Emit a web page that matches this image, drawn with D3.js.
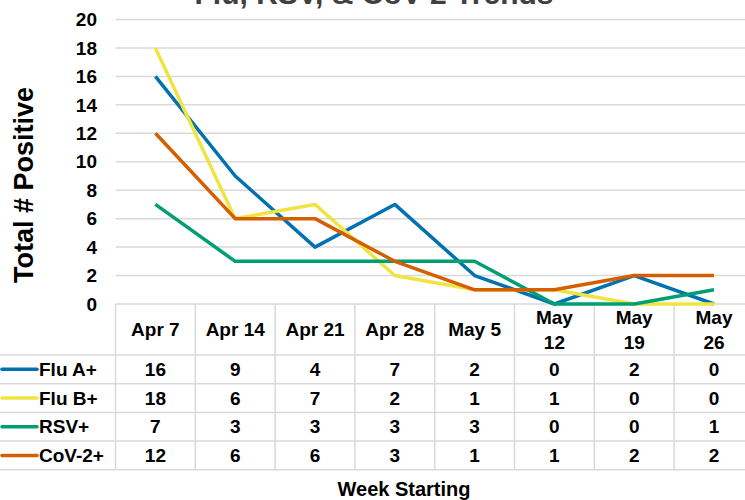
<!DOCTYPE html>
<html>
<head>
<meta charset="utf-8">
<script src="https://cdn.jsdelivr.net/npm/d3@7"></script>
<style>
  body { margin: 0; background: #fff; }
  svg text { font-family: "Liberation Sans", Arial, sans-serif; font-weight: bold; fill: #000; }
</style>
</head>
<body>
<div id="chart"></div>
<script>
// weeks and series
var weeks = [["Apr 7"], ["Apr 14"], ["Apr 21"], ["Apr 28"], ["May 5"], ["May", "12"], ["May", "19"], ["May", "26"]];
var seriesNames = ["Flu A+", "Flu B+", "RSV+", "CoV-2+"];
var fluA = [16, 9, 4, 7, 2, 0, 2, 0];
var fluB = [18, 6, 7, 2, 1, 1, 0, 0];
var rsv = [7, 3, 3, 3, 3, 0, 0, 1];
var cov2 = [12, 6, 6, 3, 1, 1, 2, 2];
var colors = ["#0072B2", "#F0E442", "#009E73", "#D55E00"];
var yTicks = [0, 2, 4, 6, 8, 10, 12, 14, 16, 18, 20];

var series = [fluA, fluB, rsv, cov2].map(function(v, i) {
  return {name: seriesNames[i], values: v, color: colors[i]};
});

var width = 745, height = 500;
var left = 115.5, colW = 79.8;
var plotTop = 19.5, plotBottom = 304;
var headerH = 51, rowH = 28.7;
var fs = "19px";

var svg = d3.select("#chart").append("svg")
  .attr("width", width)
  .attr("height", height);

var x = d3.scaleBand()
  .domain(d3.range(weeks.length))
  .range([left, left + colW * weeks.length]);

var y = d3.scaleLinear()
  .domain([0, 20])
  .range([plotBottom, plotTop]);

// title, mostly cut off at the top
svg.append("text")
  .attr("x", 374)
  .attr("y", 4)
  .attr("text-anchor", "middle")
  .style("font-size", "30px")
  .style("fill", "#404040")
  .text("Flu, RSV, & CoV-2 Trends");

// gridlines
svg.append("g")
  .selectAll("line")
  .data(yTicks.filter(function(d) { return d > 0; }))
  .enter().append("line")
  .attr("x1", left)
  .attr("x2", width)
  .attr("y1", function(d) { return y(d); })
  .attr("y2", function(d) { return y(d); })
  .style("stroke", "#d9d9d9")
  .style("stroke-width", 1.5);

// y axis labels
svg.append("g")
  .selectAll("text")
  .data(yTicks)
  .enter().append("text")
  .attr("x", 97)
  .attr("y", function(d) { return y(d); })
  .attr("dy", "0.35em")
  .attr("text-anchor", "end")
  .style("font-size", fs)
  .text(function(d) { return d; });

svg.append("text")
  .attr("transform", "translate(33,185) rotate(-90)")
  .attr("text-anchor", "middle")
  .style("font-size", "27px")
  .text("Total # Positive");

// data table grid
var grid = svg.append("g")
  .style("stroke", "#d9d9d9")
  .style("stroke-width", 1.5);

var tableTop = plotBottom;
var rowTops = d3.range(seriesNames.length + 1).map(function(i) {
  return tableTop + headerH + i * rowH;
});

grid.append("line")
  .attr("x1", left).attr("x2", width)
  .attr("y1", tableTop).attr("y2", tableTop);

grid.selectAll("line.row")
  .data(rowTops)
  .enter().append("line")
  .attr("class", "row")
  .attr("x1", 0).attr("x2", width)
  .attr("y1", function(d) { return d; })
  .attr("y2", function(d) { return d; });

grid.selectAll("line.col")
  .data(d3.range(weeks.length + 1))
  .enter().append("line")
  .attr("class", "col")
  .attr("x1", function(d) { return left + d * colW; })
  .attr("x2", function(d) { return left + d * colW; })
  .attr("y1", tableTop)
  .attr("y2", rowTops[rowTops.length - 1]);

// header labels
var header = svg.append("g")
  .selectAll("text")
  .data(weeks)
  .enter().append("text")
  .attr("text-anchor", "middle")
  .style("font-size", fs)
  .attr("x", function(d, i) { return x(i) + x.bandwidth() / 2; })
  .attr("y", function(d) { return tableTop + headerH / 2 - (d.length - 1) * 12.5; });

header.selectAll("tspan")
  .data(function(d) { return d; })
  .enter().append("tspan")
  .attr("x", function() { return d3.select(this.parentNode).attr("x"); })
  .attr("dy", function(d, i) { return i === 0 ? "0.35em" : "25px"; })
  .text(function(d) { return d; });

// table rows
var rows = svg.append("g")
  .selectAll("g")
  .data(series)
  .enter().append("g")
  .attr("transform", function(d, i) { return "translate(0," + (rowTops[i] + rowH / 2) + ")"; });

rows.append("line")
  .attr("x1", 2).attr("x2", 37)
  .attr("y1", 0).attr("y2", 0)
  .style("stroke", function(d) { return d.color; })
  .style("stroke-width", 3.5)
  .style("stroke-linecap", "round");

rows.append("text")
  .attr("x", 39)
  .attr("dy", "0.35em")
  .style("font-size", fs)
  .text(function(d) { return d.name; });

rows.selectAll("text.val")
  .data(function(d) { return d.values; })
  .enter().append("text")
  .attr("class", "val")
  .attr("x", function(d, i) { return x(i) + x.bandwidth() / 2; })
  .attr("dy", "0.35em")
  .attr("text-anchor", "middle")
  .style("font-size", fs)
  .text(function(d) { return d; });

// lines
var line = d3.line()
  .x(function(d, i) { return x(i) + x.bandwidth() / 2; })
  .y(function(d) { return y(d); });

svg.append("g")
  .selectAll("path")
  .data(series)
  .enter().append("path")
  .attr("d", function(d) { return line(d.values); })
  .style("fill", "none")
  .style("stroke", function(d) { return d.color; })
  .style("stroke-width", 3.5)
  .style("stroke-linejoin", "round");

svg.append("text")
  .attr("x", 404)
  .attr("y", 496)
  .attr("text-anchor", "middle")
  .style("font-size", "20px")
  .text("Week Starting");
</script>
</body>
</html>
